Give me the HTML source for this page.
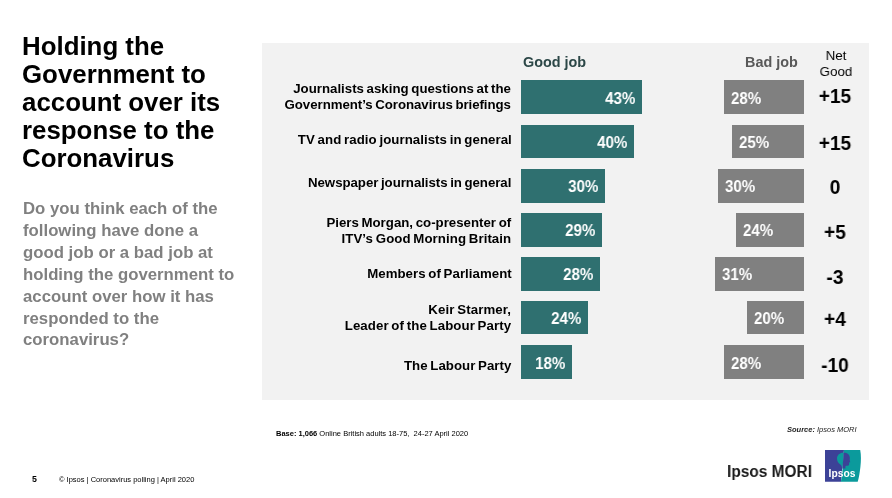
<!DOCTYPE html>
<html><head><meta charset="utf-8">
<style>
html,body{margin:0;padding:0;background:#fff;}
body{width:892px;height:498px;position:relative;overflow:hidden;font-family:"Liberation Sans",sans-serif;}
.abs{position:absolute;white-space:nowrap;will-change:transform;}
#title{left:22.1px;top:32.8px;font-weight:bold;font-size:25px;line-height:27.95px;color:#000;transform:scaleX(1.034);transform-origin:0 0;}
#sub{left:23.3px;top:198.3px;font-weight:bold;font-size:15.8px;line-height:21.9px;color:#808080;transform:scaleX(1.061);transform-origin:0 0;}
#panel{left:262px;top:43px;width:607px;height:356.7px;background:#f2f2f2;}
.lab{right:380.6px;text-align:right;font-weight:bold;font-size:13px;line-height:16px;color:#000;word-spacing:-1px;transform:scaleX(1.02);transform-origin:100% 0;}
.lab span{display:block;}
.g{left:521px;background:#2f7070;}
.r{background:#808080;}
.v{color:#fff;font-weight:bold;font-size:16.7px;line-height:18px;}
.vg{transform:scaleX(0.905);transform-origin:100% 0;}
.vr{transform:scaleX(0.905);transform-origin:0 0;}
.net{left:805px;width:60px;text-align:center;font-weight:bold;font-size:20px;color:#000;line-height:22px;transform:scaleX(0.955);transform-origin:50% 0;}
</style></head><body>
<div class="abs" id="title">Holding the<br>Government to<br>account over its<br>response to the<br>Coronavirus</div>
<div class="abs" id="sub">Do you think each of the<br>following have done a<br>good job or a bad job at<br>holding the government to<br>account over how it has<br>responded to the<br>coronavirus?</div>
<div class="abs" id="panel"></div>

<div class="abs" style="left:522.6px;top:54.3px;font-weight:bold;font-size:14px;line-height:16px;color:#2c4747;transform:scaleX(1.028);transform-origin:0 0;">Good job</div>
<div class="abs" style="left:744.7px;top:54.3px;font-weight:bold;font-size:14px;line-height:16px;color:#595959;transform:scaleX(1.028);transform-origin:0 0;">Bad job</div>
<div class="abs" style="left:805.7px;top:48.1px;width:60px;text-align:center;font-size:13.6px;line-height:16px;color:#000;transform:scaleX(0.98);transform-origin:50% 0;">Net<br>Good</div>

<div class="abs lab" style="top:81px;"><span style="letter-spacing:0px">Journalists asking questions at the</span><span style="letter-spacing:-0.05px">Government’s Coronavirus briefings</span></div>
<div class="abs lab" style="top:131.75px;"><span style="letter-spacing:0.05px">TV and radio journalists in general</span></div>
<div class="abs lab" style="top:175px;"><span style="letter-spacing:-0.045px">Newspaper journalists in general</span></div>
<div class="abs lab" style="top:214.75px;"><span style="letter-spacing:0px">Piers Morgan, co-presenter of</span><span style="letter-spacing:0.06px">ITV’s Good Morning Britain</span></div>
<div class="abs lab" style="top:265.5px;"><span style="letter-spacing:0.035px">Members of Parliament</span></div>
<div class="abs lab" style="top:301.75px;"><span style="letter-spacing:0.1px">Keir Starmer,</span><span style="letter-spacing:0.065px">Leader of the Labour Party</span></div>
<div class="abs lab" style="top:357.5px;"><span style="letter-spacing:0.03px">The Labour Party</span></div>
<div class="abs g" style="top:80px;height:34.3px;width:121px;"></div>
<div class="abs r" style="top:80px;height:34.3px;left:724px;width:80px;"></div>
<div class="abs v vg" style="top:90.4px;right:257.1px;">43%</div>
<div class="abs v vr" style="top:90.4px;left:730.7px;">28%</div>
<div class="abs g" style="top:125px;height:32.8px;width:113px;"></div>
<div class="abs r" style="top:125px;height:32.8px;left:732.25px;width:71.75px;"></div>
<div class="abs v vg" style="top:134.0px;right:265.1px;">40%</div>
<div class="abs v vr" style="top:134.0px;left:738.95px;">25%</div>
<div class="abs g" style="top:169px;height:33.75px;width:84px;"></div>
<div class="abs r" style="top:169px;height:33.75px;left:718px;width:86px;"></div>
<div class="abs v vg" style="top:178.0px;right:294.1px;">30%</div>
<div class="abs v vr" style="top:178.0px;left:724.7px;">30%</div>
<div class="abs g" style="top:213px;height:33.75px;width:81.25px;"></div>
<div class="abs r" style="top:213px;height:33.75px;left:736px;width:68px;"></div>
<div class="abs v vg" style="top:222.0px;right:296.85px;">29%</div>
<div class="abs v vr" style="top:222.0px;left:742.7px;">24%</div>
<div class="abs g" style="top:257px;height:33.75px;width:79px;"></div>
<div class="abs r" style="top:257px;height:33.75px;left:715.3px;width:88.7px;"></div>
<div class="abs v vg" style="top:266.0px;right:299.1px;">28%</div>
<div class="abs v vr" style="top:266.0px;left:722.0px;">31%</div>
<div class="abs g" style="top:301.25px;height:33.45px;width:67.25px;"></div>
<div class="abs r" style="top:301.25px;height:33.45px;left:747px;width:57px;"></div>
<div class="abs v vg" style="top:310.25px;right:310.85px;">24%</div>
<div class="abs v vr" style="top:310.25px;left:753.7px;">20%</div>
<div class="abs g" style="top:345px;height:33.7px;width:51px;"></div>
<div class="abs r" style="top:345px;height:33.7px;left:724px;width:80px;"></div>
<div class="abs v vg" style="top:355.1px;right:327.1px;">18%</div>
<div class="abs v vr" style="top:355.1px;left:730.7px;">28%</div>
<div class="abs net" style="top:85.07px;">+15</div>
<div class="abs net" style="top:131.67px;">+15</div>
<div class="abs net" style="top:176.27px;">0</div>
<div class="abs net" style="top:221.17px;">+5</div>
<div class="abs net" style="top:265.57px;">-3</div>
<div class="abs net" style="top:307.97px;">+4</div>
<div class="abs net" style="top:354.47px;">-10</div>

<div class="abs" style="left:275.5px;top:429.1px;font-size:7.5px;line-height:9px;color:#000;"><b>Base: 1,066</b> Online British adults 18-75,&nbsp; 24-27 April 2020</div>
<div class="abs" style="right:35.2px;top:424.6px;font-size:7.5px;line-height:9px;font-style:italic;color:#222;"><b>Source:</b> Ipsos MORI</div>
<div class="abs" style="left:31.5px;top:474.3px;font-size:8.8px;line-height:10px;font-weight:bold;color:#000;">5</div>
<div class="abs" style="left:58.7px;top:475px;font-size:7.5px;line-height:9px;color:#000;">© Ipsos | Coronavirus polling | April 2020</div>
<div class="abs" style="left:727.1px;top:462px;font-size:16.8px;line-height:20px;font-weight:bold;color:#1a1a1a;transform:scaleX(0.92);transform-origin:0 0;">Ipsos MORI</div>
<svg class="abs" style="left:824px;top:449px;" width="40" height="36" viewBox="0 0 40 36">
  <path d="M1 1 H20 L17 32.7 H1 Z" fill="#3c4297"/>
  <path d="M19.9 1 H36.2 C37.2 6 37.1 12 36.4 18 C35.7 24 34.9 29 33.7 32.7 H16.9 C18.4 26 19.4 12 19.9 1 Z" fill="#0b9a9c"/>
  <path d="M19.7 3.8 C16 3.6 13 6 13 9.5 C13 12.5 14.6 14.4 16.4 15.4 C17.6 16.2 18 18 18.3 20.3 L18.9 15 Z" fill="#0b9a9c"/>
  <path d="M19.7 3.8 C23 3.6 25.6 5.6 25.8 8.6 C25.9 10 25.5 10.8 25.9 11.8 L26.2 13 L25.2 13.6 L25 16 C24.5 17 22.5 16.6 21.5 17 L21.4 19.6 H18.5 Z" fill="#3c4297"/>
  <text x="4.6" y="28.0" font-family="Liberation Sans, sans-serif" font-weight="bold" font-size="10.4" fill="#fff" textLength="26.9" lengthAdjust="spacingAndGlyphs">Ipsos</text>
</svg>
</body></html>
